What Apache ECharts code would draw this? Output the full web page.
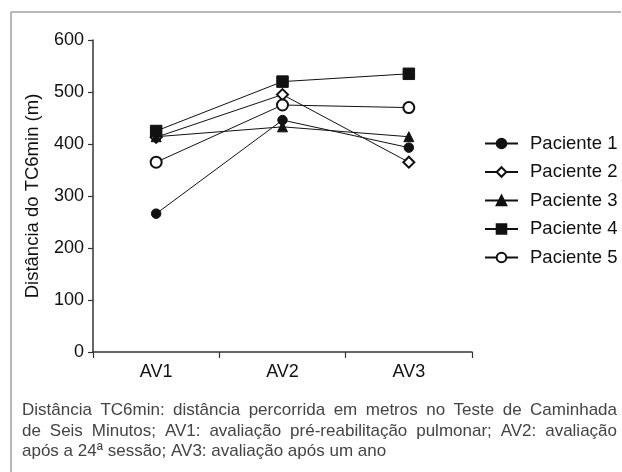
<!DOCTYPE html>
<html><head><meta charset="utf-8">
<script src="https://cdn.jsdelivr.net/npm/echarts@6/dist/echarts.min.js"></script>
<style>html,body{margin:0;padding:0;background:#fff}#c{width:622px;height:472px}</style>
</head><body><div id="c"></div>
<script>
const categories = ['AV1', 'AV2', 'AV3'];
const paciente1 = [266, 446, 393];
const paciente2 = [413, 495, 365];
const paciente3 = [414, 433, 414];
const paciente4 = [425, 520, 535];
const paciente5 = [365, 475, 470];
const seriesNames = ['Paciente 1', 'Paciente 2', 'Paciente 3', 'Paciente 4', 'Paciente 5'];
const yTicks = [0, 100, 200, 300, 400, 500, 600];
const yTitle = 'Distância do TC6min (m)';
const captionLines = [
  'Distância TC6min: distância percorrida em metros no Teste de Caminhada',
  'de Seis Minutos; AV1: avaliação pré-reabilitação pulmonar; AV2: avaliação',
  'após a 24ª sessão; AV3: avaliação após um ano'
];

const values = [paciente1, paciente2, paciente3, paciente4, paciente5];
const symbols = ['circle', 'emptyDiamond', 'triangle', 'rect', 'emptyCircle'];
const sizes = [9.5, 11, 10, 11.5, 11];
const font = 'Liberation Sans, Arial, sans-serif';

// caption layout (justified lines 1-2)
const capFont = '17px Liberation Sans, Arial, sans-serif';
const capLeft = 22, capRight = 617, capTop = 402, capStep = 20.5;
const ctx = document.createElement('canvas').getContext('2d');
ctx.font = capFont;
const captionGraphics = [];
captionLines.forEach((line, li) => {
  const y = capTop + li * capStep;
  if (li === captionLines.length - 1) {
    captionGraphics.push({type: 'text', x: capLeft, y: y,
      style: {text: line, fill: '#444', font: capFont, textVerticalAlign: 'top'}});
    return;
  }
  const words = line.split(' ');
  const widths = words.map(w => ctx.measureText(w).width);
  const total = widths.reduce((a, b) => a + b, 0);
  const gap = (capRight - capLeft - total) / (words.length - 1);
  let x = capLeft;
  words.forEach((w, wi) => {
    captionGraphics.push({type: 'text', x: x, y: y,
      style: {text: w, fill: '#444', font: capFont, textVerticalAlign: 'top'}});
    x += widths[wi] + gap;
  });
});

const chart = echarts.init(document.getElementById('c'), null, {renderer: 'canvas'});
chart.setOption({
  animation: false,
  backgroundColor: '#fff',
  grid: {left: 93, right: 150, top: 40, bottom: 120, containLabel: false},
  xAxis: {
    type: 'category', data: categories, boundaryGap: true,
    axisLine: {lineStyle: {color: '#333', width: 1.5}},
    axisTick: {show: true, length: 6, lineStyle: {color: '#333', width: 1.2}},
    axisLabel: {color: '#111', fontSize: 18, fontFamily: font, margin: 11}
  },
  yAxis: {
    type: 'value', min: yTicks[0], max: yTicks[yTicks.length - 1], interval: 100,
    name: yTitle, nameLocation: 'middle', nameGap: 51, nameRotate: 90,
    nameTextStyle: {color: '#111', fontSize: 18.5, fontFamily: font},
    axisLine: {show: true, lineStyle: {color: '#333', width: 1.5}},
    axisTick: {show: true, length: 5, lineStyle: {color: '#333', width: 1.2}},
    axisLabel: {color: '#111', fontSize: 18, fontFamily: font, margin: 9},
    splitLine: {show: false}
  },
  legend: {
    orient: 'vertical', left: 484, top: 134, padding: 0, itemWidth: 33, itemHeight: 12, itemGap: 9.5,
    textStyle: {color: '#111', fontSize: 18.5, fontFamily: font, padding: [0, 0, 0, 7]},
    data: seriesNames
  },
  series: seriesNames.map((n, i) => ({
    name: n, type: 'line', data: values[i],
    symbol: symbols[i], symbolSize: sizes[i], showSymbol: true,
    lineStyle: {color: '#111', width: 1},
    itemStyle: {color: '#111', borderColor: '#111', borderWidth: 1},
    z: 2 + i
  })),
  graphic: [
    {type: 'line', shape: {x1: 11, y1: 12, x2: 621, y2: 12}, style: {stroke: '#a0a0a0', lineWidth: 1.5}},
    {type: 'line', shape: {x1: 11, y1: 12, x2: 11, y2: 472}, style: {stroke: '#a0a0a0', lineWidth: 1.5}}
  ].concat(captionGraphics)
});
</script></body></html>
